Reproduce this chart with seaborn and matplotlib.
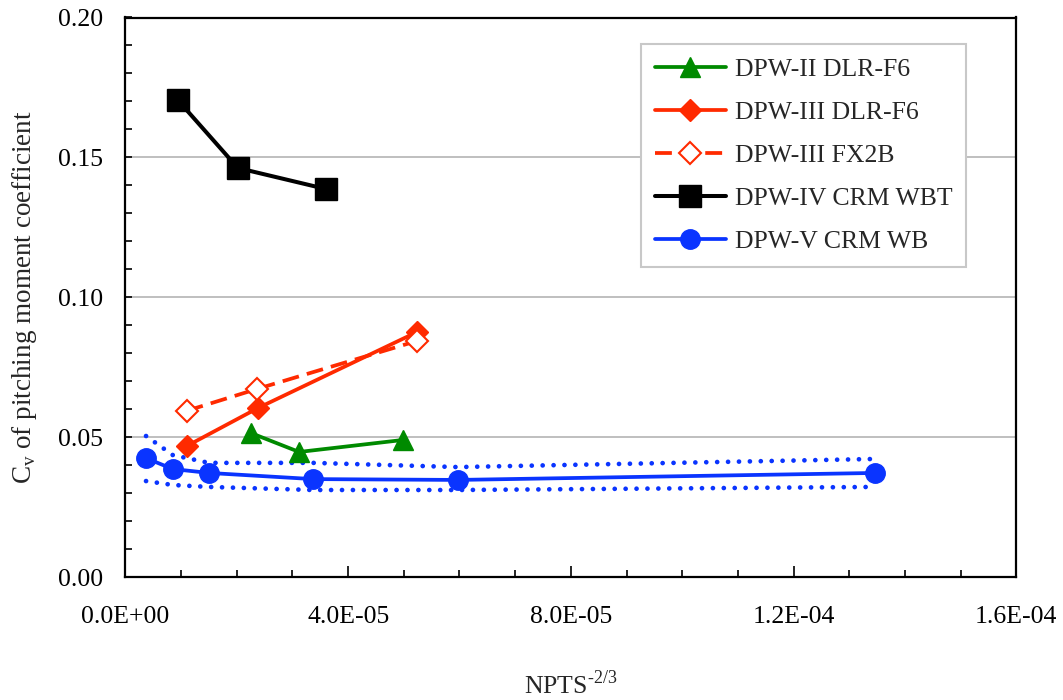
import matplotlib
matplotlib.use("Agg")
import matplotlib.pyplot as plt
from matplotlib.ticker import MultipleLocator, FuncFormatter
import seaborn as sns

# Grid-convergence data: x = NPTS^(-2/3), y = coefficient of variation of Cm
dpw2_x = [2.25e-5, 3.12e-5, 4.99e-5]
dpw2_y = [0.0515, 0.0447, 0.0490]

dpw3_f6_x = [1.10e-5, 2.38e-5, 5.24e-5]
dpw3_f6_y = [0.0468, 0.0604, 0.0876]

dpw3_fx2b_x = [1.10e-5, 2.36e-5, 5.24e-5]
dpw3_fx2b_y = [0.0594, 0.0672, 0.0844]

dpw4_x = [0.94e-5, 2.02e-5, 3.60e-5]
dpw4_y = [0.1705, 0.1462, 0.1387]

dpw5_x = [0.37e-5, 0.85e-5, 1.50e-5, 3.37e-5, 5.97e-5, 13.47e-5]
dpw5_y = [0.0425, 0.0386, 0.0372, 0.0350, 0.0347, 0.0372]
dpw5_upper = [0.0504, 0.0436, 0.0408, 0.0408, 0.0393, 0.0422]
dpw5_lower = [0.0343, 0.0329, 0.0322, 0.0311, 0.0311, 0.0322]

labels = ["DPW-II DLR-F6", "DPW-III DLR-F6", "DPW-III FX2B",
          "DPW-IV CRM WBT", "DPW-V CRM WB"]
x_ticks = [0.0, 4e-5, 8e-5, 1.2e-4, 1.6e-4]
y_ticks = [0.00, 0.05, 0.10, 0.15, 0.20]

GREEN = "#008a00"
RED = "#ff2a00"
BLACK = "#000000"
BLUE = "#0a34ff"

sns.set_style("white")
plt.rcParams["font.family"] = ["Liberation Serif", "DejaVu Serif"]
plt.rcParams["mathtext.fontset"] = "custom"
plt.rcParams["mathtext.rm"] = "Liberation Serif"

fig = plt.figure(figsize=(10.63, 7.0), dpi=100)
ax = fig.add_axes([0.118, 0.1757, 0.838, 0.7993])

LW = 2.7

# confidence band around the DPW-V curve
for band in (dpw5_upper, dpw5_lower):
    sns.lineplot(x=dpw5_x, y=band, ax=ax, color=BLUE, errorbar=None,
                 linewidth=3.4, linestyle=(0, (0.01, 2.3)),
                 dash_capstyle="round")

sns.lineplot(x=dpw2_x, y=dpw2_y, ax=ax, color=GREEN, errorbar=None,
             linewidth=LW, marker="^", markersize=15,
             markeredgecolor=GREEN, markeredgewidth=1, label=labels[0])
sns.lineplot(x=dpw3_f6_x, y=dpw3_f6_y, ax=ax, color=RED, errorbar=None,
             linewidth=LW, marker="D", markersize=11.5,
             markeredgecolor=RED, markeredgewidth=1, label=labels[1])
sns.lineplot(x=dpw3_fx2b_x, y=dpw3_fx2b_y, ax=ax, color=RED, errorbar=None,
             linewidth=LW, linestyle=(0, (4.5, 2.2)), marker="D",
             markersize=11.5, markerfacecolor="white", markeredgecolor=RED,
             markeredgewidth=1.5, label=labels[2])
sns.lineplot(x=dpw4_x, y=dpw4_y, ax=ax, color=BLACK, errorbar=None,
             linewidth=2.9, marker="s", markersize=16,
             markeredgecolor=BLACK, markeredgewidth=1, label=labels[3])
sns.lineplot(x=dpw5_x, y=dpw5_y, ax=ax, color=BLUE, errorbar=None,
             linewidth=LW, marker="o", markersize=14,
             markeredgecolor=BLUE, markeredgewidth=1, label=labels[4])

ax.set_xlim(0, 1.6e-4)
ax.set_ylim(0, 0.20)
ax.set_xticks(x_ticks)
ax.set_yticks(y_ticks)
ax.xaxis.set_minor_locator(MultipleLocator(1e-5))
ax.yaxis.set_minor_locator(MultipleLocator(0.01))
ax.xaxis.set_major_formatter(FuncFormatter(lambda v, p: f"{v:.1E}"))
ax.yaxis.set_major_formatter(FuncFormatter(lambda v, p: f"{v:.2f}"))

ax.grid(axis="y", which="major", color="#b4b4b4", linewidth=1.2)
ax.grid(axis="x", visible=False)
for side in ax.spines.values():
    side.set_color("black")
    side.set_linewidth(1.6)

ax.tick_params(axis="both", which="both", direction="in", colors="black",
               labelsize=18.5, bottom=True, left=True, top=False, right=False)
ax.tick_params(axis="x", which="major", length=8, width=1.2, pad=21)
ax.tick_params(axis="x", which="minor", length=5, width=1.2)
ax.tick_params(axis="y", which="major", length=5, width=1.2, pad=16)
ax.tick_params(axis="y", which="minor", length=5, width=1.2)

ax.set_xlabel("NPTS$^{\\mathregular{\u20102/3}}$", fontsize=18.5, labelpad=30)
ax.set_ylabel(r"C$_{\mathregular{v}}$ of pitching moment coefficient",
              fontsize=19.5, labelpad=14)

leg = ax.legend(loc="upper right", bbox_to_anchor=(0.944, 0.953),
                fontsize=18.5, frameon=True, fancybox=False, framealpha=1,
                edgecolor="#c8c8c8", handlelength=2.75, handletextpad=0.35,
                labelspacing=0.78, borderpad=0.55, borderaxespad=0)
leg.get_frame().set_linewidth(1.5)

fig.savefig("out.png", dpi=100, facecolor="white")
